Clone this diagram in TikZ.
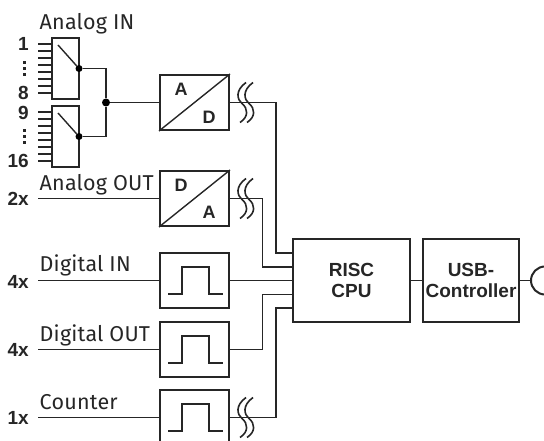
\documentclass[tikz,border=0pt]{standalone}
\usepackage{fontspec}
\setmainfont{Liberation Sans}
\newfontfamily\labelfont[LetterSpace=1]{Fira Sans}
\tikzset{
  wire/.style={line width=1.4pt,black!85},
  blockbox/.style={draw,line width=2pt,black!85,inner sep=0pt,minimum width=69pt,minimum height=55pt},
  cpubox/.style={draw,line width=2pt,black!85,inner sep=0pt,align=center,font=\bfseries\fontsize{19}{21.7}\selectfont},
  muxbox/.style={draw,line width=2pt,black!85,inner sep=0pt,minimum width=27pt,minimum height=61pt},
  biglabel/.style={inner sep=0pt,anchor=base west,font=\labelfont\fontsize{21.5}{23}\selectfont,black!85},
  numlabel/.style={inner sep=0pt,anchor=base east,font=\bfseries\fontsize{19}{21}\selectfont,black!85},
  letter/.style={inner sep=0pt,font=\bfseries\fontsize{18}{20}\selectfont,black!85},
  junction/.style={circle,fill,black,inner sep=0pt,minimum size=#1},
  pics/wavebreak/.style={code={
    \foreach \d in {0,7} {
      \draw[wire,line width=1.6pt] (\d+3,-20) .. controls (\d-8,-12) and (\d-6,-3) .. (\d-1,1)
        .. controls (\d+5,6) and (\d+6,14) .. (\d-3,20);
    }
  }}
}
\newcommand{\pulse}[1]{
  \draw[wire] ($(#1.center)+(-26.5,13.5)$) -- ++(14,0) -- ++(0,-27) -- ++(27,0) -- ++(0,27) -- ++(13.5,0);
}
\usetikzlibrary{calc}
\begin{document}
\begin{tikzpicture}[x=1pt,y=-1pt]
  \useasboundingbox (0,0) rectangle (544,441);

  %multiplexers
  \node[muxbox] (muxa) at (65.5,68.5) {};
  \node[muxbox] (muxb) at (65.5,136.5) {};
  \foreach \n in {0,...,7} {
    \draw[wire] (38,44+7*\n) -- (52,44+7*\n);
    \draw[wire] (38,112+7*\n) -- (52,112+7*\n);
  }
  \foreach \n in {0,1,2} {
    \fill[black!85] (22.5,61+6*\n) rectangle (25.5,64+6*\n);
    \fill[black!85] (22.5,129+6*\n) rectangle (25.5,132+6*\n);
  }
  \node[junction=7pt] (taba) at (79,68.5) {};
  \node[junction=7pt] (tabb) at (79,136.5) {};
  \node[junction=8pt] (join) at (106,102.5) {};
  \coordinate (arma) at (58,45);
  \coordinate (armb) at (58,113);
  \draw[wire] (arma) -- (taba);
  \draw[wire] (armb) -- (tabb);
  \draw[wire] (taba) -| (join);
  \draw[wire] (tabb) -| (join);

  %converters and signal blocks
  \node[blockbox] (adc) at (194.5,102.5) {};
  \node[blockbox] (dac) at (194.5,198.5) {};
  \node[blockbox] (digin) at (194.5,280.5) {};
  \node[blockbox] (digout) at (194.5,349.5) {};
  \node[blockbox] (count) at (194.5,417.5) {};
  \draw[wire] (adc.south west) -- (adc.north east);
  \draw[wire] (dac.south west) -- (dac.north east);
  \node[letter] (adca) at (181,89) {A};
  \node[letter] (adcd) at (209,117) {D};
  \node[letter] (dacd) at (181,185) {D};
  \node[letter] (daca) at (209,212) {A};
  \pulse{digin}
  \pulse{digout}
  \pulse{count}

  %cpu and usb
  \node[cpubox,minimum width=117pt,minimum height=83pt] (cpu) at (351.5,280.5) {RISC\\CPU};
  \node[cpubox,minimum width=96pt,minimum height=83pt] (usb) at (471,280.5) {USB-\\Controller};
  \node[draw,circle,line width=2pt,black!85,minimum size=28pt,inner sep=0pt] (plug) at (545,280.5) {};
  \draw[wire] (cpu) -- (usb);
  \draw[wire] (usb) -- (plug);

  %inputs on the left
  \coordinate (dacin) at (38,198.5);
  \coordinate (diginin) at (38,280.5);
  \coordinate (digoutin) at (38,349.5);
  \coordinate (countin) at (38,417.5);
  \draw[wire] (join) -- (adc);
  \draw[wire] (dacin) -- (dac);
  \draw[wire] (diginin) -- (digin);
  \draw[wire] (digoutin) -- (digout);
  \draw[wire] (countin) -- (count);

  %lines into the cpu
  \coordinate (cpua) at (293,253);
  \coordinate (cpub) at (293,267);
  \coordinate (cpuc) at (293,294.5);
  \coordinate (cpud) at (293,308);
  \coordinate (bendadc) at (276,102.5);
  \coordinate (benddac) at (262.5,198.5);
  \coordinate (benddigout) at (262.5,349.5);
  \coordinate (bendcount) at (276,417.5);
  \draw[wire] (adc) -- (bendadc) |- (cpua);
  \draw[wire] (dac) -- (benddac) |- (cpub);
  \draw[wire] (digin) -- (cpu.west |- digin);
  \draw[wire] (digout) -- (benddigout) |- (cpuc);
  \draw[wire] (count) -- (bendcount) |- (cpud);

  %break marks
  \pic at (243,102.5) {wavebreak};
  \pic at (243,198.5) {wavebreak};
  \pic at (243,417.5) {wavebreak};

  %labels
  \node[biglabel] (lblain) at (39.5,30) {Analog IN};
  \node[biglabel] (lblaout) at (39.5,190) {Analog OUT};
  \node[biglabel] (lbldin) at (39.5,272) {Digital IN};
  \node[biglabel] (lbldout) at (39.5,341) {Digital OUT};
  \node[biglabel] (lblcount) at (39.5,409) {Counter};
  \node[numlabel] (numa) at (29,51) {1};
  \node[numlabel] (numb) at (29,100) {8};
  \node[numlabel] (numc) at (29,119.5) {9};
  \node[numlabel] (numd) at (29,168) {16};
  \node[numlabel] (nume) at (29,205.5) {2x};
  \node[numlabel] (numf) at (29,288) {4x};
  \node[numlabel] (numg) at (29,356) {4x};
  \node[numlabel] (numh) at (29,424) {1x};
\end{tikzpicture}
\end{document}
